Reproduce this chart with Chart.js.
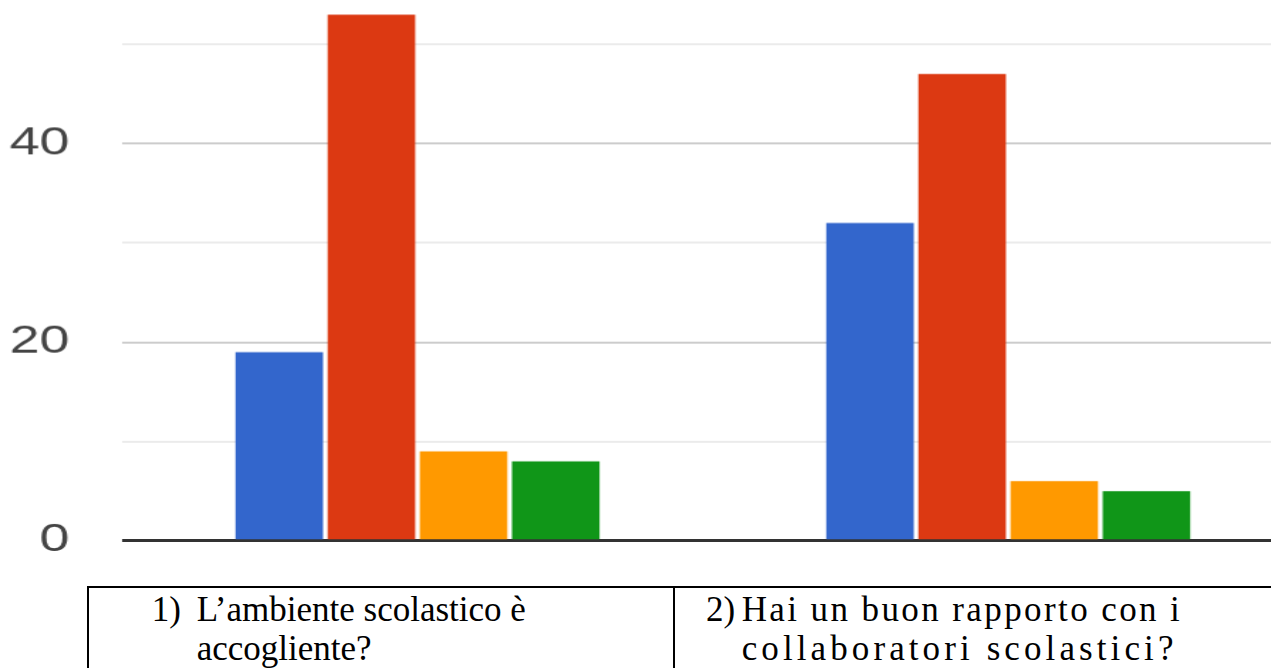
<!DOCTYPE html>
<html>
<head>
<meta charset="utf-8">
<script src="https://cdn.jsdelivr.net/npm/chart.js@4.4.1/dist/chart.umd.min.js"></script>
<style>
  body { margin: 0; width: 1271px; height: 668px; overflow: hidden; background: #fff; position: relative; }
  /* the original chart image is stretched sideways, so the canvas is too */
  #chartBox { position: absolute; left: 0; top: -84.8px; width: 918px; height: 654.8px; transform: scaleX(1.42); transform-origin: 0 0; }
  #legendTable { position: absolute; left: 87px; top: 586px; width: 1400px; height: 200px; border: 2px solid #000; font-family: 'Liberation Serif', 'Times New Roman', serif; font-size: 35px; line-height: 39px; color: #000; }
  #legendTable .divider { position: absolute; left: 584px; top: 0; width: 2px; height: 200px; background: #000; }
  #legendTable .num, #legendTable .txt { position: absolute; top: 1.7px; white-space: nowrap; }
</style>
</head>
<body>
<div id="chartBox"><canvas id="barChart"></canvas></div>
<div id="legendTable"><div class="divider"></div></div>
<script>
// question text, split as in the table under the chart
const questionLines = [
    ['L’ambiente scolastico è', 'accogliente?'],
    ['Hai un buon rapporto con i', 'collaboratori scolastici?']
];
const categories = questionLines.map(lines => lines.join(' '));

// answer series (names are not visible in the picture)
const seriesNames = ['Molto', 'Abbastanza', 'Poco', 'Per niente'];
const seriesColors = ['#3366cc', '#dc3912', '#ff9900', '#109618'];
const blueValues = [19, 32];
const redValues = [53, 47];
const orangeValues = [9, 6];
const greenValues = [8, 5];

const yTickLabels = [0, 20, 40];

// where the number and the text sit inside each table cell
const numLeft = [62.7, 617];
const txtLeft = [107.7, 652.7];
// the second cell is set wider in the original
const lineSpacing = [['0px', '0px'], ['2.4px', '4.1px']];

function buildTable() {
    const table = document.getElementById('legendTable');
    questionLines.forEach((lines, i) => {
        const num = document.createElement('div');
        num.className = 'num';
        num.style.left = numLeft[i] + 'px';
        num.textContent = (i + 1) + ')';
        table.appendChild(num);

        const txt = document.createElement('div');
        txt.className = 'txt';
        txt.style.left = txtLeft[i] + 'px';
        lines.forEach((line, j) => {
            const span = document.createElement('div');
            span.style.letterSpacing = lineSpacing[i][j];
            span.textContent = line;
            txt.appendChild(span);
        });
        table.appendChild(txt);
    });
}

function gridColor(ctx) {
    const v = ctx.tick.value;
    if (v === 0) return '#333333';
    return v % 20 === 0 ? '#cccccc' : '#ebebeb';
}

function renderChart() {
    const allValues = [blueValues, redValues, orangeValues, greenValues];
    const data = {
        labels: categories,
        datasets: allValues.map((values, i) => ({
            label: seriesNames[i],
            data: values,
            backgroundColor: seriesColors[i],
            borderWidth: 0,
            categoryPercentage: 0.624,
            barPercentage: 0.95
        }))
    };

    const config = {
        type: 'bar',
        data: data,
        options: {
            responsive: true,
            maintainAspectRatio: false,
            animation: false,
            layout: { padding: { top: 30, bottom: 30, left: 0, right: 0 } },
            plugins: {
                legend: { display: false },
                tooltip: { enabled: false }
            },
            scales: {
                x: { display: false },
                y: {
                    min: 0,
                    max: 60,
                    border: { display: false },
                    grid: {
                        color: gridColor,
                        lineWidth: ctx => ctx.tick.value === 0 ? 3 : 2,
                        drawTicks: true,
                        tickLength: 37,
                        tickColor: 'rgba(0,0,0,0)'
                    },
                    ticks: {
                        stepSize: 10,
                        padding: 0,
                        color: '#444444',
                        font: { family: "'Liberation Sans', Arial, sans-serif", size: 38 },
                        callback: v => yTickLabels.includes(v) ? v : ''
                    },
                    afterFit: scale => { scale.width = 86; }
                }
            }
        }
    };

    return new Chart(document.getElementById('barChart'), config);
}

buildTable();
renderChart();
</script>
</body>
</html>
